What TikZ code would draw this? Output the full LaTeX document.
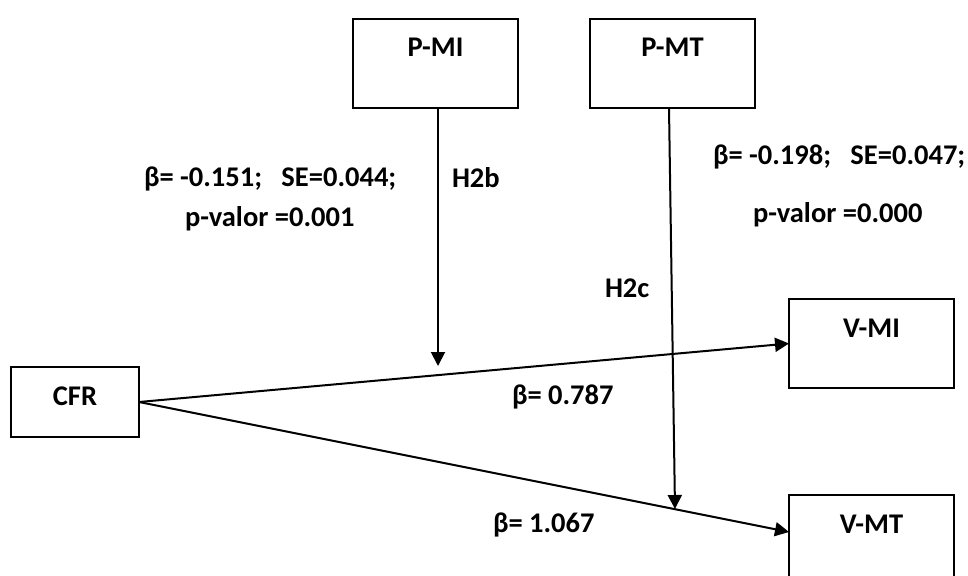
\documentclass[tikz,border=0pt]{standalone}
\usepackage{fontspec}
\setmainfont{Carlito}
\usetikzlibrary{arrows.meta}
\begin{document}
\begin{tikzpicture}[x=1pt, y=-1pt,
  every node/.style={font=\fontsize{28.5}{34}\selectfont\bfseries, inner sep=0pt, outer sep=0pt},
  varbox/.style={draw, line width=2pt, fill=white, minimum width=165pt, minimum height=89pt},
  arr/.style={line width=2pt, -{Triangle[length=14pt,width=14pt]}},
  lbl/.style={anchor=base west},
  boxtitle/.style={label={[anchor=base, yshift=-38pt]north:#1}}
]
% canvas
\clip (0,0) rectangle (968,575);
\fill[white] (0,0) rectangle (968,575);

% variables
\node[varbox, boxtitle=P-MI] (pmi) at (435.5,63.5) {};
\node[varbox, boxtitle=P-MT] (pmt) at (672.5,63.5) {};
\node[varbox, boxtitle=CFR, minimum width=128pt, minimum height=70pt] (cfr) at (75,402) {};
\node[varbox, boxtitle=V-MI] (vmi) at (871.5,343.5) {};
\node[varbox, boxtitle=V-MT] (vmt) at (871.5,539.5) {};

% arrow end points
\coordinate (vmtin) at ([yshift=-37pt]vmt.north west);
\coordinate (h2bend) at (438,366);
\coordinate (h2cend) at (675,509);

% direct effects
\draw[arr] (cfr.east) -- (vmi.west);
\draw[arr] (cfr.east) -- (vmtin);

% moderating effects
\draw[arr] (h2bend |- pmi.south) -- (h2bend);
\draw[arr] ([xshift=-3.5pt]pmt.south) -- (h2cend);

% coefficients
\node[lbl] (coefb) at (144,186) {β= -0.151;\ \ \ SE=0.044;};
\node[lbl] (pvalb) at (185,226) {p-valor =0.001};
\node[lbl] (hypb) at (452,187) {H2b};
\node[lbl] (coefc) at (713,164) {β= -0.198;\ \ \ SE=0.047;};
\node[lbl] (pvalc) at (753,222) {p-valor =0.000};
\node[lbl] (hypc) at (605,297) {H2c};
\node[lbl] (betami) at (512,404) {β= 0.787};
\node[lbl] (betamt) at (493,532) {β= 1.067};
\end{tikzpicture}
\end{document}
